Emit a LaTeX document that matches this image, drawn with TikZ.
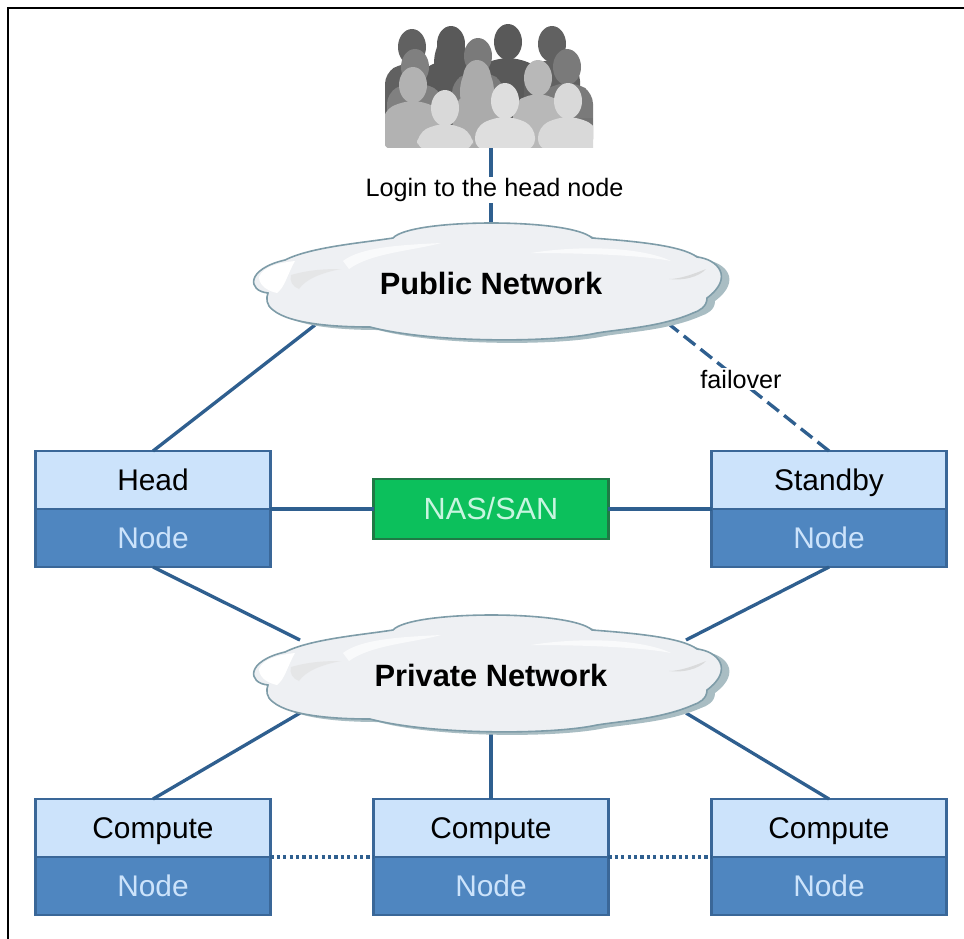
\documentclass[tikz,border=0pt]{standalone}
\usepackage{fontspec}
\setmainfont{Liberation Sans}
\usetikzlibrary{calc}

\definecolor{edgeblue}{HTML}{2F5F8F}
\definecolor{boxdark}{HTML}{4F86C0}
\definecolor{boxlight}{HTML}{CCE3FB}
\definecolor{boxline}{HTML}{3A6798}
\definecolor{nasgreen}{HTML}{0CC05C}
\definecolor{nasline}{HTML}{1F7A45}
\definecolor{nastext}{HTML}{C8F5E0}
\definecolor{cloudfill}{HTML}{EEF0F3}
\definecolor{cloudline}{HTML}{7E9CA8}
\definecolor{cloudshade}{HTML}{A9BDC3}

\tikzset{
  conn/.style={edgeblue, line width=2.5pt},
  toppart/.style={draw=boxline, line width=2.2pt, fill=boxlight, minimum width=176pt,
    minimum height=43.5pt, inner sep=0pt, outer sep=0pt, text height=16pt, text depth=0pt,
    font=\fontsize{22.4}{24}\selectfont},
  lowpart/.style={toppart, fill=boxdark, text=boxlight},
  nasbox/.style={toppart, draw=nasline, fill=nasgreen, text=nastext, minimum height=45pt,
    font=\fontsize{23}{24}\selectfont},
  cloudname/.style={inner sep=0pt, font=\fontsize{23.1}{24}\selectfont\bfseries},
  smalltext/.style={fill=white, inner sep=1pt, font=\fontsize{18.9}{20}\selectfont},
}

% outline of one cloud, centred on the origin
\newcommand{\cloudpath}{
  (-223,10) .. controls (-244,8) and (-245,-14) .. (-206,-23)
  .. controls (-180,-36) and (-130,-40) .. (-98,-45)
  .. controls (-80,-65) and (80,-65) .. (101,-45)
  .. controls (140,-42) and (190,-38) .. (206,-26)
  .. controls (226,-24) and (244,-6) .. (216,15)
  .. controls (216,24) and (208,28) .. (202,30)
  .. controls (170,44) and (130,46) .. (106,50)
  .. controls (60,60) and (-60,60) .. (-121,44)
  .. controls (-150,44) and (-200,42) .. (-218,27)
  .. controls (-225,22) and (-225,15) .. (-223,10) -- cycle}

\newcommand{\drawcloud}[1]{
  \begin{scope}[shift={(#1)}]
    \fill[cloudshade] [shift={(8,3)}] \cloudpath;
    \fill[cloudfill] \cloudpath;
    \fill[white] (-232,-6) .. controls (-228,-16) and (-214,-20) .. (-196,-22)
      .. controls (-204,-8) and (-206,4) .. (-214,10) .. controls (-224,8) and (-232,2) .. (-232,-6) -- cycle;
    \fill[black!12, opacity=0.6] (-200,-8) .. controls (-180,-14) and (-160,-14) .. (-150,-14)
      .. controls (-170,-10) and (-185,-4) .. (-192,6) .. controls (-198,4) and (-202,-2) .. (-200,-8) -- cycle;
    \fill[white, opacity=0.7] (-148,-22) .. controls (-130,-36) and (-90,-38) .. (-50,-40)
      .. controls (-80,-32) and (-120,-30) .. (-142,-14) -- cycle;
    \fill[white, opacity=0.7] (40,-30) .. controls (90,-38) and (150,-36) .. (180,-22)
      .. controls (150,-28) and (90,-30) .. (40,-30) -- cycle;
    \fill[black!18, opacity=0.7] (178,-4) .. controls (190,-4) and (205,-10) .. (215,-14)
      .. controls (208,-6) and (192,-2) .. (178,-4) -- cycle;
    \draw[cloudline, line width=1.2pt] \cloudpath;
  \end{scope}
}

% one person: head and shoulders
\newcommand{\person}[4]{
  \fill[#4] (#1,#2) ellipse (14 and 18);
  \fill[#4, rounded corners=8] (#1-#3,150) -- (#1-#3,#2+26) -- (#1-10,#2+16) -- (#1+10,#2+16)
    -- (#1+#3,#2+26) -- (#1+#3,150) -- cycle;
}

\begin{document}
\begin{tikzpicture}[x=0.75pt, y=-0.75pt]
  \useasboundingbox (0,0) rectangle (964,939);
  \draw[black, line width=1.8pt] (8,939) -- (8,8) -- (964,8);

  % people
  \begin{scope}
    \clip (385,20) rectangle (593,147);
    \person{412}{47}{27}{black!62}
    \person{451}{44}{30}{black!65}
    \fill[black!65] (451,64) ellipse (17 and 30);
    \person{508}{42}{33}{black!65}
    \person{552}{44}{28}{black!62}
    \person{478}{56}{26}{black!52}
    \person{567}{67}{26}{black!52}
    \person{415}{67}{28}{black!50}
    \fill[black!55] (570,118) rectangle (593,129);
    \person{413}{85}{30}{black!30}
    \person{477}{78}{24}{black!33}
    \fill[black!33] (477,92) ellipse (17 and 28);
    \person{538}{78}{25}{black!28}
    \person{445}{108}{28}{black!15}
    \person{505}{101}{30}{black!13}
    \person{568}{101}{30}{black!15}
  \end{scope}

  \coordinate (crowd) at (491,148);
  \coordinate (pubnet) at (491,283);
  \coordinate (privnet) at (491,675);

  \node[toppart] (head) at (153,480) {Head};
  \node[lowpart] (headlow) at (153,538) {Node};
  \node[toppart] (standby) at (829,480) {Standby};
  \node[lowpart] (standbylow) at (829,538) {Node};
  \node[toppart] (compa) at (153,828) {Compute};
  \node[lowpart] (compalow) at (153,886) {Node};
  \node[toppart] (compb) at (491,828) {Compute};
  \node[lowpart] (compblow) at (491,886) {Node};
  \node[toppart] (compc) at (829,828) {Compute};
  \node[lowpart] (compclow) at (829,886) {Node};
  \node[nasbox] (nas) at (491,509) {NAS/SAN};

  \coordinate (pubsw) at ($(pubnet)+(-176,42)$);
  \coordinate (pubse) at ($(pubnet)+(179,42)$);
  \coordinate (privnw) at ($(privnet)+(-191,-35)$);
  \coordinate (privne) at ($(privnet)+(195,-35)$);
  \coordinate (privsw) at ($(privnet)+(-191,38)$);
  \coordinate (privse) at ($(privnet)+(195,38)$);

  \draw[conn] (crowd) -- (pubnet);
  \draw[conn] (pubsw) -- (head.north);
  \draw[conn, dash pattern=on 11pt off 5pt] (standby.north) -- (pubse);
  \draw[conn] (headlow.south) -- (privnw);
  \draw[conn] (standbylow.south) -- (privne);
  \draw[conn] (privsw) -- (compa.north);
  \draw[conn] (privnet) -- (compb.north);
  \draw[conn] (privse) -- (compc.north);
  \draw[conn] (head.south east) -- (nas.west);
  \draw[conn] (nas.east) -- (standby.south west);
  \draw[conn, dash pattern=on 2.4pt off 2.4pt] (compa.south east) -- (compb.south west);
  \draw[conn, dash pattern=on 2.4pt off 2.4pt] (compb.south east) -- (compc.south west);

  \drawcloud{pubnet}
  \drawcloud{privnet}

  \node[cloudname] (pubname) at (pubnet) {Public Network};
  \node[cloudname] (privname) at (privnet) {Private Network};
  \node[smalltext] (login) at (494.5,190) {Login to the head node};
  \node[smalltext] (failover) at (741,379) {failover};
\end{tikzpicture}
\end{document}
